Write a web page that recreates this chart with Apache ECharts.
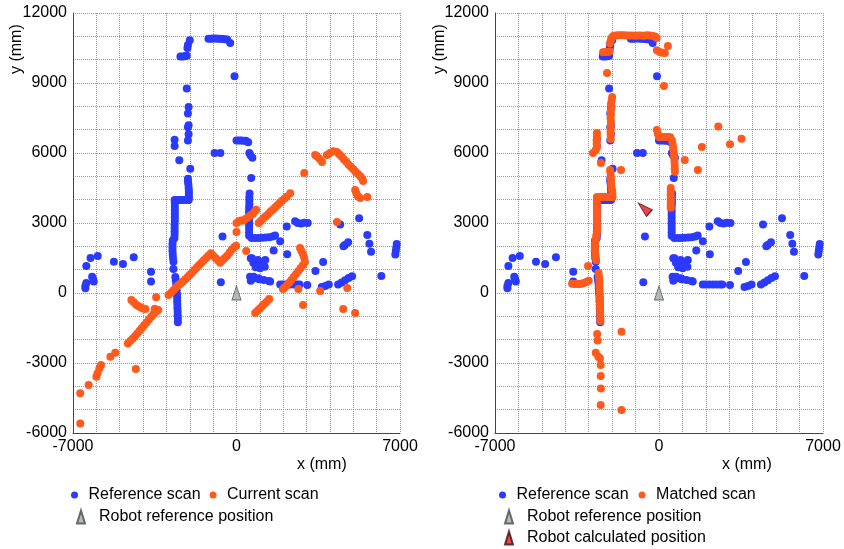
<!DOCTYPE html>
<html>
<head>
<meta charset="utf-8">
<script src="https://cdn.jsdelivr.net/npm/echarts@6/dist/echarts.min.js"></script>
<style>
  html, body { margin: 0; padding: 0; background: #fff; }
  #main { width: 844px; height: 549px; }
</style>
</head>
<body>
<div id="main"></div>
<script>
// tick labels shown on the axes
const xTicks = [-7000, 0, 7000]
const yTicks = [-6000, -3000, 0, 3000, 6000, 9000, 12000]

// reference scan, same in both panels (mm)
const referenceScan = [
  [-2400, 10140], [-2300, 10140], [-2200, 10150], [-2130, 10170], [-2100, 10500], [-2080, 10630], [-2000, 10830],
  [-1200, 10900], [-1100, 10900], [-1000, 10910], [-900, 10910], [-800, 10900], [-700, 10900], [-600, 10890], [-500, 10880], [-400, 10860], [-270, 10710],
  [-85, 9290], [-2130, 8760], [-2050, 7970], [-2080, 7690], [-2050, 7190], [-2080, 7100], [-2050, 6800], [-2080, 6540],
  [-2650, 6570], [-2650, 6300], [-2450, 5690], [-1980, 5330],
  [-2080, 4900], [-2080, 4780], [-2060, 4650], [-2050, 4500], [-2040, 4380], [-2040, 4260], [-2040, 4150], [-2040, 4050],
  [-2650, 3990], [-2550, 3990], [-2450, 3990], [-2350, 3990], [-2250, 3990], [-2150, 3990], [-2050, 3990],
  [-2640, 3850], [-2640, 3700], [-2640, 3550], [-2640, 3400], [-2640, 3250], [-2640, 3100], [-2650, 2950], [-2650, 2800], [-2650, 2650], [-2650, 2500], [-2660, 2350],
  [-2730, 2250], [-2740, 2100], [-2740, 1950], [-2740, 1800], [-2730, 1650], [-2720, 1500], [-2700, 1340], [-2700, 1030],
  [-2620, 690], [-2600, 550], [-2580, 400], [-2570, 250], [-2560, 100], [-2550, -50], [-2540, -200], [-2540, -350], [-2530, -500], [-2530, -650], [-2520, -800], [-2520, -950], [-2510, -1100], [-2510, -1250],
  [-6470, 200], [-6470, 300], [-6430, 430], [-6430, 1160], [-6250, 1500], [-6180, 700], [-6140, 600], [-6110, 490], [-5940, 1590], [-5250, 1340], [-4860, 1240], [-4400, 1530], [-3660, 910], [-3660, 490],
  [-940, 6000], [-690, 6000], [-600, 2420], [-670, 460],
  [0, 6540], [100, 6540], [200, 6540], [300, 6530], [400, 6520], [500, 6460], [550, 6000], [600, 5900], [680, 5800], [630, 4930],
  [560, 4260], [550, 4100], [550, 3950], [550, 3800], [540, 3650], [540, 3500], [540, 3350], [540, 3200], [540, 3050], [540, 2900], [540, 2750], [540, 2600], [540, 2450],
  [650, 2360], [800, 2360], [950, 2360], [1100, 2370], [1250, 2380], [1400, 2390], [1550, 2420], [1650, 2460],
  [1870, 2220], [1590, 1820], [2170, 1660], [2150, 2850], [2510, 3080], [2620, 3000], [2760, 2980], [2900, 3010], [3050, 3000],
  [4440, 2940], [5250, 3200], [5600, 2490], [5690, 2110], [5760, 1770], [4580, 2000], [4640, 2060], [4780, 2180],
  [6800, 1650], [6820, 1800], [6840, 1950], [6860, 2100],
  [610, 1490], [720, 1300], [920, 1410], [1060, 1240], [1210, 1130], [820, 1100], [1010, 1060], [660, 1490], [940, 1340], [1230, 1410], [870, 1160],
  [580, 700], [750, 630], [960, 590], [1170, 560], [610, 530], [1390, 510], [730, 700], [940, 630], [1440, 490],
  [1870, 360], [2000, 360], [2150, 360], [2300, 360], [2450, 360], [2600, 360], [2700, 360], [3030, 340],
  [3380, 940], [3710, 1330], [3650, 260], [3800, 300], [3950, 360],
  [4350, 360], [4500, 450], [4650, 550], [4800, 640], [4950, 720], [6200, 730]
]

// current scan, left panel
const currentScan = [
  [2900, 5140], [3370, 5910], [3450, 5850], [3550, 5750], [3660, 5610],
  [3870, 5910], [4000, 6000], [4150, 6070], [4300, 6040], [4400, 5950], [4500, 5850], [4600, 5720], [4700, 5620], [4800, 5500],
  [4900, 5400], [5000, 5300], [5100, 5200], [5200, 5100], [5300, 5000], [5380, 4900], [5420, 4800],
  [5080, 4410], [5130, 4280], [5200, 4150], [5290, 4070], [5600, 4110], [4300, 3040],
  [950, 3000], [1050, 3100], [1150, 3200], [1250, 3290], [1350, 3380], [1450, 3480], [1550, 3570], [1650, 3660],
  [1750, 3760], [1850, 3860], [1950, 3950], [2050, 4040], [2150, 4130], [2300, 4270],
  [0, 3000], [100, 3080], [200, 3110], [300, 3110], [400, 3180], [500, 3250], [600, 3330], [700, 3400], [800, 3510], [840, 3570],
  [0, 2610], [415, 1800],
  [-2910, -90], [-2800, 10], [-2700, 120], [-2600, 230], [-2500, 330], [-2400, 400], [-2300, 480], [-2200, 580], [-2100, 680],
  [-2000, 780], [-1900, 880], [-1800, 990], [-1700, 1090], [-1600, 1200], [-1500, 1300], [-1400, 1400], [-1300, 1500],
  [-1200, 1600], [-1100, 1700], [-1000, 1610], [-900, 1500], [-800, 1400], [-700, 1300], [-600, 1400], [-500, 1500],
  [-400, 1600], [-300, 1720], [-200, 1860], [-100, 1960], [-20, 2030],
  [-3440, -180],
  [-4500, -300], [-4400, -400], [-4300, -500], [-4200, -560], [-4100, -620], [-4000, -660], [-3900, -690],
  [-3500, -680], [-3350, -730], [-3450, -800], [-3550, -900], [-3650, -1020], [-3750, -1140], [-3850, -1260], [-3950, -1380],
  [-4050, -1500], [-4150, -1620], [-4250, -1740], [-4350, -1850], [-4450, -1960], [-4550, -2060], [-4650, -2160],
  [-5190, -2560], [-5400, -2730], [-5800, -3090], [-5870, -3240], [-5950, -3440], [-6000, -3590], [-6330, -3940],
  [-6690, -4300], [-6690, -5590], [-4310, -3260],
  [800, -860], [900, -760], [1000, -660], [1100, -560], [1200, -460], [1300, -360], [1400, -260],
  [2720, 1930], [2780, 1800], [2850, 1650], [2900, 1500], [2930, 1330], [2850, 1200], [2750, 1070], [2650, 940],
  [2550, 810], [2450, 690], [2350, 560], [2250, 440], [2150, 320], [2050, 220], [1990, 170],
  [2650, 170], [2850, -510], [3580, 86], [4570, -690], [4740, 210], [5080, -860]
]

// matched scan, right panel
const matchedScan = [
  [-2010, 10950], [-1950, 11010], [-1850, 11040], [-1730, 11050], [-1610, 11050], [-1490, 11050], [-1370, 11040], [-1250, 11040],
  [-1130, 11040], [-1010, 11030], [-890, 11040], [-770, 11040], [-650, 11030], [-530, 11050], [-410, 11040], [-290, 11020],
  [-180, 10990], [-100, 10930], [-2050, 10850], [-2100, 10700],
  [-2390, 10320], [-2290, 10330], [-2190, 10330], [-2100, 10350],
  [-90, 10400], [30, 10330], [130, 10300], [250, 10290], [380, 10590],
  [-2220, 9430], [210, 8870],
  [-2000, 8400], [-2020, 8250], [-2050, 8100], [-2030, 7950], [-2060, 7800], [-2050, 7650], [-2070, 7500], [-2050, 7350],
  [-2060, 7200], [-2060, 7050], [-2070, 6900], [-2060, 6750], [-2060, 6600],
  [-2650, 6860], [-2650, 6700], [-2660, 6550], [-2660, 6400], [-2650, 6250], [-2700, 6130], [-2820, 6000], [-2480, 5570], [-1620, 5270],
  [-2090, 5270], [-2070, 5150], [-2060, 5000], [-2050, 4850], [-2040, 4700], [-2030, 4550], [-2000, 4400], [-1990, 4250], [-1980, 4110],
  [-2650, 4110], [-2550, 4110], [-2450, 4110], [-2350, 4110], [-2250, 4110], [-2150, 4110], [-2050, 4110],
  [-2650, 3950], [-2650, 3800], [-2650, 3650], [-2650, 3500], [-2650, 3350], [-2650, 3200], [-2650, 3050], [-2640, 2900],
  [-2640, 2750], [-2650, 2600], [-2680, 2450], [-2700, 2300], [-2730, 2150], [-2730, 2000], [-2740, 1850], [-2720, 1700],
  [-2700, 1550], [-2680, 1400], [-3030, 1160],
  [-3710, 400], [-3600, 390], [-3500, 390], [-3400, 390], [-3300, 400], [-3200, 430], [-3100, 470], [-3000, 520],
  [-2580, 860], [-2560, 700], [-2550, 550], [-2540, 400], [-2540, 250], [-2530, 100], [-2530, -50], [-2520, -200],
  [-2520, -350], [-2520, -500], [-2520, -650], [-2510, -800], [-2510, -950], [-2500, -1100], [-2500, -1200],
  [-2640, -1760], [-2620, -2040], [-1600, -1660],
  [-2700, -2560], [-2590, -2730], [-2520, -2800], [-2490, -3090], [-2490, -3560], [-2480, -4090], [-2490, -4800], [-1600, -5010],
  [-90, 6990], [-50, 6830], [0, 6690], [100, 6690], [200, 6690], [300, 6690], [400, 6690], [480, 6680],
  [550, 6550], [580, 6400], [600, 6250], [620, 6100], [640, 5950], [650, 5800], [660, 5650], [670, 5500], [670, 5350], [680, 5200],
  [500, 4500], [500, 4350], [500, 4200], [500, 4050], [500, 3900], [500, 3750], [500, 3650],
  [1100, 5700], [1660, 5270], [1830, 6260], [2530, 7140], [3030, 6370], [3520, 6610]
]

const robotReference = [[0, 0]]
const robotCalculated = [[-650, 3640]]

const blue = '#2b3aff'
const orange = '#ff5a1c'
const font = 'Liberation Sans, Arial, Helvetica, sans-serif'

const chart = echarts.init(document.getElementById('main'))

function xAxisFor (gridIndex) {
  return {
    type: 'value', gridIndex: gridIndex, min: -7000, max: 7000, interval: 1000,
    axisLine: { show: true, onZero: false, lineStyle: { color: '#444', width: 1 } },
    axisTick: { show: false },
    splitLine: { show: true, lineStyle: { color: '#999', type: 'dotted', width: 1 } },
    axisLabel: {
      color: '#000', fontSize: 16, fontFamily: font, margin: 6,
      formatter: v => xTicks.includes(v) ? String(v) : ''
    }
  }
}

function yAxisFor (gridIndex) {
  return {
    type: 'value', gridIndex: gridIndex, min: -6000, max: 12000, interval: 1000,
    axisLine: { show: true, onZero: false, lineStyle: { color: '#444', width: 1 } },
    axisTick: { show: false },
    splitLine: { show: true, lineStyle: { color: '#999', type: 'dotted', width: 1 } },
    axisLabel: {
      color: '#000', fontSize: 16, fontFamily: font, margin: 6,
      formatter: v => yTicks.includes(v) ? String(v) : ''
    }
  }
}

function scan (name, data, color, idx) {
  return {
    name: name, type: 'scatter', xAxisIndex: idx, yAxisIndex: idx, data: data,
    symbol: 'circle', symbolSize: 8, itemStyle: { color: color, opacity: 1 },
    emphasis: { disabled: true }
  }
}

const legendText = { color: '#000', fontSize: 16, fontFamily: font }

const option = {
  animation: false,
  backgroundColor: '#fff',
  grid: [
    { left: 73, top: 13, width: 327, height: 420 },
    { left: 495, top: 13, width: 328, height: 420 }
  ],
  xAxis: [xAxisFor(0), xAxisFor(1)],
  yAxis: [yAxisFor(0), yAxisFor(1)],
  legend: [
    { left: 71, top: 487, padding: 0, itemGap: 9, itemWidth: 18, itemHeight: 7, textStyle: legendText,
      data: ['Reference scan', 'Current scan'], selectedMode: false },
    { left: 76, top: 509, padding: 0, itemWidth: 8, itemHeight: 13, symbolKeepAspect: false,
      textStyle: Object.assign({ padding: [0, 0, 0, 9] }, legendText),
      data: ['Robot reference position'], selectedMode: false },
    { left: 499, top: 487, padding: 0, itemGap: 10, itemWidth: 18, itemHeight: 7, textStyle: legendText,
      data: ['Reference scan', 'Matched scan'], selectedMode: false },
    { left: 504, top: 509, padding: 0, orient: 'vertical', itemGap: 5, itemWidth: 8, itemHeight: 13, symbolKeepAspect: false,
      textStyle: Object.assign({ padding: [0, 0, 0, 9] }, legendText),
      data: ['Robot reference position', 'Robot calculated position'], selectedMode: false }
  ],
  graphic: [
    { type: 'text', left: 297, top: 457, style: { text: 'x (mm)', fill: '#000', font: '16px ' + font } },
    { type: 'text', left: 722, top: 457, style: { text: 'x (mm)', fill: '#000', font: '16px ' + font } },
    { type: 'text', x: 9, y: 74, rotation: Math.PI / 2, style: { text: 'y (mm)', fill: '#000', font: '16px ' + font } },
    { type: 'text', x: 432, y: 74, rotation: Math.PI / 2, style: { text: 'y (mm)', fill: '#000', font: '16px ' + font } }
  ],
  series: [
    scan('Reference scan', referenceScan, blue, 0),
    scan('Current scan', currentScan, orange, 0),
    {
      name: 'Robot reference position', type: 'scatter', xAxisIndex: 0, yAxisIndex: 0, data: robotReference,
      symbol: 'triangle', symbolSize: [9, 14], z: 5,
      itemStyle: { color: '#a3abab', borderColor: '#4a4a4a', borderWidth: 1 }
    },
    scan('Reference scan', referenceScan, blue, 1),
    scan('Matched scan', matchedScan, orange, 1),
    {
      name: 'Robot reference position', type: 'scatter', xAxisIndex: 1, yAxisIndex: 1, data: robotReference,
      symbol: 'triangle', symbolSize: [9, 14], z: 5,
      itemStyle: { color: '#a3abab', borderColor: '#4a4a4a', borderWidth: 1 }
    },
    {
      name: 'Robot calculated position', type: 'scatter', xAxisIndex: 1, yAxisIndex: 1, data: robotCalculated,
      symbol: 'triangle', symbolSize: [9, 15], symbolRotate: 48, z: 5,
      itemStyle: { color: '#e8141c', borderColor: '#3a1010', borderWidth: 1 }
    }
  ]
}

chart.setOption(option)
</script>
</body>
</html>
